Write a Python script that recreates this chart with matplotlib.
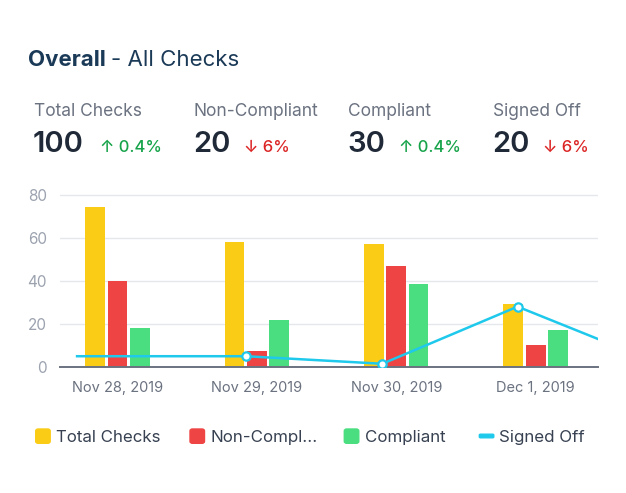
import matplotlib.pyplot as plt
from matplotlib.patches import FancyBboxPatch
import numpy as np

plt.rcParams['font.family'] = ['Inter', 'DejaVu Sans']

# Data
dates = ["Nov 28, 2019", "Nov 29, 2019", "Nov 30, 2019", "Dec 1, 2019"]
total_checks = [74, 58, 57, 29]
non_compliant = [40, 7.5, 47, 10]
compliant = [18, 22, 38.5, 17]
# signed off line: positions in category units, last point runs off the chart
signed_off_x = [-0.29, 0.92, 1.9, 2.87, 3.85]
signed_off_y = [5, 5, 1.5, 28, 2.5]

kpi_labels = ["Total Checks", "Non-Compliant", "Compliant", "Signed Off"]
kpi_values = ["100", "20", "30", "20"]
kpi_changes = ["\u2191 0.4%", "\u2193 6%", "\u2191 0.4%", "\u2193 6%"]
kpi_up = [True, False, True, False]

YELLOW = "#FACC15"
RED = "#EF4444"
GREEN = "#4ADE80"
CYAN = "#1EC9EC"

W, H = 626, 493
fig = plt.figure(figsize=(W / 100, H / 100), dpi=100)


def fx(px):
    return px / W


def fy(py):
    return 1 - py / H


# Header
fig.text(fx(28), fy(66), "Overall", fontsize=16, fontweight="bold", color="#1B3A57", va="baseline")
fig.text(fx(111), fy(66), "- All Checks", fontsize=16, color="#1B3A57", va="baseline")

kpi_x = [34, 194, 348, 493]
arrow_x = [100, 244, 399, 543]
for i in range(4):
    fig.text(fx(kpi_x[i]), fy(116), kpi_labels[i], fontsize=12.5, color="#6B7280", va="baseline")
    fig.text(fx(kpi_x[i] - 1), fy(151.5), kpi_values[i], fontsize=21, fontweight="semibold",
             color="#1F2937", va="baseline")
    fig.text(fx(arrow_x[i]), fy(151.5), kpi_changes[i], fontsize=12, fontweight="medium",
             color="#16A34A" if kpi_up[i] else "#DC2626", va="baseline")

# Chart
ax = fig.add_axes([fx(60), fy(367), fx(598) - fx(60), fy(190.2) - fy(367)])
x = np.arange(len(dates))
bw = 0.142
off = 0.16
ax.bar(x - off, total_checks, bw, color=YELLOW, zorder=2)
ax.bar(x, non_compliant, bw, color=RED, zorder=2)
ax.bar(x + off, compliant, bw, color=GREEN, zorder=2)
ax.plot(signed_off_x, signed_off_y, color=CYAN, lw=1.8, zorder=3,
        marker="o", markevery=[1, 2, 3], markersize=6, markerfacecolor="white",
        markeredgecolor=CYAN, markeredgewidth=1.6)

ax.set_xlim(-0.4125, 3.447)
ax.set_ylim(0, 82)
ax.set_yticks([0, 20, 40, 60, 80])
ax.set_xticks(x)
ax.set_xticklabels(dates)
ax.yaxis.grid(True, color="#E5E7EB", lw=1)
ax.set_axisbelow(True)
for s in ["top", "right", "left"]:
    ax.spines[s].set_visible(False)
ax.spines["bottom"].set_color("#6B7280")
ax.spines["bottom"].set_linewidth(1.4)
ax.tick_params(axis="y", length=0, labelsize=11, labelcolor="#9CA3AF", pad=9.5)
ax.tick_params(axis="x", length=0, labelsize=10.5, labelcolor="#6B7280", pad=10)
for t in ax.get_yticklabels():
    t.set_va("center_baseline")

# Legend
leg_items = [("Total Checks", YELLOW, 35.7, 56), ("Non-Compl...", RED, 190, 210),
             ("Compliant", GREEN, 344.3, 365), ("Signed Off", CYAN, 479.3, 499.3)]
for label, col, sx, tx in leg_items:
    if label == "Signed Off":
        fig.patches.append(FancyBboxPatch((fx(sx), fy(437.8)), fx(14.5), 3.6 / H,
                                          boxstyle="round,pad=0,rounding_size=0.002",
                                          transform=fig.transFigure, color=col))
    else:
        fig.patches.append(FancyBboxPatch((fx(sx), fy(443.3)), fx(14.5), 14.3 / H,
                                          boxstyle="round,pad=0,rounding_size=0.004",
                                          transform=fig.transFigure, color=col))
    fig.text(fx(tx), fy(442.3), label, fontsize=12.2, color="#374151", va="baseline")

fig.savefig("out.png", dpi=100)
